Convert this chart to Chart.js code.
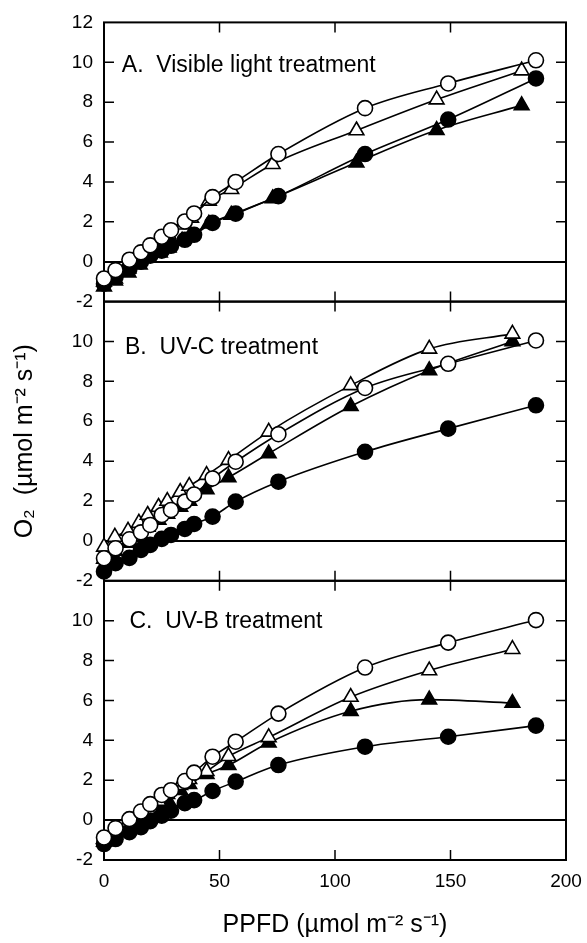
<!DOCTYPE html>
<html>
<head>
<meta charset="utf-8">
<title>O2 evolution vs PPFD</title>
<script src="https://cdn.jsdelivr.net/npm/chart.js"></script>
<style>
  html, body { margin: 0; padding: 0; background: #fff; }
</style>
</head>
<body>
<canvas id="o2Chart" width="587" height="943"></canvas>
<script>
    // PPFD levels - circles and triangles were measured at slightly different light levels
    const ppfdCircle = [0, 5, 11, 16, 20, 25, 29, 35, 39, 47, 57, 75.5, 113, 149, 187];
    const ppfdTriA = [0, 4.8, 10.6, 15.5, 19.3, 24.2, 28, 33.8, 37.7, 45.4, 55.1, 73, 109.3, 144, 180.8];
    const ppfdTriBC = [0, 4.7, 10.4, 15.1, 18.9, 23.6, 27.4, 33, 36.9, 44.4, 53.9, 71.3, 106.8, 140.8, 176.8];

    // A. Visible light treatment
    const visOpenCircle = [-0.84, -0.42, 0.1, 0.47, 0.82, 1.25, 1.58, 2.02, 2.42, 3.24, 4.0, 5.4, 7.7, 8.94, 10.1];
    const visFilledCircle = [-1.1, -0.75, -0.35, 0.0, 0.3, 0.55, 0.8, 1.1, 1.35, 1.95, 2.41, 3.29, 5.4, 7.13, 9.19];
    const visOpenTri = [-1.0, -0.85, -0.35, 0.15, 0.5, 0.95, 1.35, 1.85, 2.2, 3.05, 3.63, 4.89, 6.58, 8.13, 9.58];
    const visFilledTri = [-1.25, -0.95, -0.55, -0.15, 0.2, 0.45, 0.7, 1.05, 1.3, 1.9, 2.35, 3.17, 4.97, 6.6, 7.84];

    // B. UV-C treatment
    const uvcOpenCircle = [-0.87, -0.37, 0.08, 0.43, 0.8, 1.3, 1.55, 1.97, 2.33, 3.13, 3.97, 5.35, 7.67, 8.88, 10.05];
    const uvcFilledCircle = [-1.53, -1.12, -0.85, -0.45, -0.2, 0.1, 0.3, 0.6, 0.85, 1.22, 1.97, 2.97, 4.47, 5.63, 6.8];
    const uvcOpenTri = [-0.3, 0.2, 0.5, 0.9, 1.3, 1.7, 2.0, 2.45, 2.75, 3.3, 4.05, 5.47, 7.8, 9.63, 10.38];
    const uvcFilledTri = [-0.9, -0.5, -0.1, 0.35, 0.7, 1.05, 1.35, 1.7, 2.0, 2.58, 3.18, 4.38, 6.75, 8.55, 10.0];

    // C. UV-B treatment
    const uvbOpenCircle = [-0.87, -0.4, 0.05, 0.43, 0.8, 1.26, 1.5, 1.96, 2.38, 3.18, 3.93, 5.34, 7.65, 8.9, 10.03];
    const uvbFilledCircle = [-1.2, -0.95, -0.6, -0.35, -0.05, 0.22, 0.47, 0.85, 1.0, 1.46, 1.93, 2.76, 3.68, 4.18, 4.74];
    const uvbOpenTri = [-0.95, -0.55, -0.1, 0.3, 0.55, 0.95, 1.3, 1.75, 2.05, 2.45, 3.2, 4.15, 6.17, 7.5, 8.57];
    const uvbFilledTri = [-1.1, -0.75, -0.35, 0.05, 0.4, 0.75, 1.05, 1.5, 1.8, 2.3, 2.75, 3.88, 5.46, 6.04, 5.87];

    const panelTitles = ['A.  Visible light treatment', 'B.  UV-C treatment', 'C.  UV-B treatment'];
    const xTicks = [0, 50, 100, 150, 200];
    const yTicks = [-2, 0, 2, 4, 6, 8, 10, 12];

    const FONT = 'Arial, "Liberation Sans", Helvetica, sans-serif';
    Chart.defaults.font.family = FONT;
    Chart.defaults.color = '#000';

    // marker looks
    const markers = {
        openCircle:   { pointStyle: 'circle',   pointRadius: 7.5, pointBackgroundColor: '#fff' },
        filledCircle: { pointStyle: 'circle',   pointRadius: 7.5, pointBackgroundColor: '#000' },
        openTri:      { pointStyle: 'triangle', pointRadius: 8.5, pointBackgroundColor: '#fff' },
        filledTri:    { pointStyle: 'triangle', pointRadius: 8.5, pointBackgroundColor: '#000' }
    };

    function series(xs, ys, axisId, kind) {
        return Object.assign({
            data: xs.map((x, i) => ({ x: x, y: ys[i] })),
            yAxisID: axisId,
            borderColor: '#000',
            borderWidth: 1.6,
            pointBorderColor: '#000',
            pointBorderWidth: 1.6,
            cubicInterpolationMode: 'monotone',
            clip: false
        }, markers[kind]);
    }

    // first dataset ends up drawn on top
    const datasets = [
        series(ppfdCircle, visOpenCircle, 'yA', 'openCircle'),
        series(ppfdCircle, visFilledCircle, 'yA', 'filledCircle'),
        series(ppfdTriA, visOpenTri, 'yA', 'openTri'),
        series(ppfdTriA, visFilledTri, 'yA', 'filledTri'),

        series(ppfdCircle, uvcOpenCircle, 'yB', 'openCircle'),
        series(ppfdCircle, uvcFilledCircle, 'yB', 'filledCircle'),
        series(ppfdTriBC, uvcOpenTri, 'yB', 'openTri'),
        series(ppfdTriBC, uvcFilledTri, 'yB', 'filledTri'),

        series(ppfdCircle, uvbOpenCircle, 'yC', 'openCircle'),
        series(ppfdCircle, uvbFilledCircle, 'yC', 'filledCircle'),
        series(ppfdTriBC, uvbOpenTri, 'yC', 'openTri'),
        series(ppfdTriBC, uvbFilledTri, 'yC', 'filledTri')
    ];

    const TICK = 10;

    // panel frames, inward tick marks and panel captions
    const framePlugin = {
        id: 'frame',
        beforeDatasetsDraw(chart) {
            const { ctx, scales } = chart;
            const x = scales.x;
            ctx.save();
            ctx.strokeStyle = '#000';
            ['yA', 'yB', 'yC'].forEach(id => {
                const y = scales[id];
                ctx.lineWidth = 2;
                ctx.strokeRect(x.left, y.top, x.right - x.left, y.bottom - y.top);
                ctx.lineWidth = 1.5;
                ctx.beginPath();
                y.ticks.forEach(t => {
                    if (t.value <= y.min || t.value >= y.max) return;
                    const py = y.getPixelForValue(t.value);
                    ctx.moveTo(x.left, py); ctx.lineTo(x.left + TICK, py);
                    ctx.moveTo(x.right, py); ctx.lineTo(x.right - TICK, py);
                });
                x.ticks.forEach(t => {
                    if (t.value <= x.min || t.value >= x.max) return;
                    const px = x.getPixelForValue(t.value);
                    ctx.moveTo(px, y.top); ctx.lineTo(px, y.top + TICK);
                    ctx.moveTo(px, y.bottom); ctx.lineTo(px, y.bottom - TICK);
                });
                ctx.stroke();
            });
            ctx.restore();
        },
        afterDatasetsDraw(chart) {
            const { ctx, scales } = chart;
            const at = [[7.7, 9.82], [9.1, 9.67], [11, 9.95]];
            ctx.save();
            ctx.fillStyle = '#000';
            ctx.font = '23px ' + FONT;
            ctx.textBaseline = 'middle';
            ctx.textAlign = 'left';
            ['yA', 'yB', 'yC'].forEach((id, i) => {
                ctx.fillText(panelTitles[i],
                    scales.x.getPixelForValue(at[i][0]),
                    scales[id].getPixelForValue(at[i][1]));
            });
            ctx.restore();
        }
    };

    function yScale(showTitle, hideTop) {
        return {
            type: 'linear',
            position: 'left',
            stack: 'panels',
            stackWeight: 1,
            min: yTicks[0],
            max: yTicks[yTicks.length - 1],
            afterFit: s => { s.width = 104; },
            border: { display: false },
            grid: {
                drawTicks: false,
                lineWidth: 2,
                color: c => (c.tick && c.tick.value === 0) ? '#000' : 'rgba(0,0,0,0)'
            },
            ticks: {
                stepSize: yTicks[1] - yTicks[0],
                autoSkip: false,
                padding: 11,
                font: { size: 19 },
                callback: v => (hideTop && v === yTicks[yTicks.length - 1]) ? '' : v
            },
            title: {
                display: showTitle,
                text: 'O₂  (µmol m⁻² s⁻¹)',
                font: { size: 25 },
                padding: { top: 10, bottom: 0 }
            }
        };
    }

    new Chart(document.getElementById('o2Chart'), {
        type: 'line',
        data: { datasets: datasets },
        options: {
            responsive: false,
            animation: false,
            layout: { padding: { left: 0, right: 21, top: 21, bottom: 0 } },
            plugins: { legend: { display: false }, tooltip: { enabled: false } },
            scales: {
                x: {
                    type: 'linear',
                    position: 'bottom',
                    min: xTicks[0],
                    max: xTicks[xTicks.length - 1],
                    afterFit: s => { s.height = 83; s.paddingLeft = 0; s.paddingRight = 0; },
                    border: { display: false },
                    grid: { display: false, drawTicks: false },
                    ticks: { stepSize: xTicks[1] - xTicks[0], padding: 10, font: { size: 19 } },
                    title: {
                        display: true,
                        text: 'PPFD (µmol m⁻² s⁻¹)',
                        font: { size: 25 },
                        padding: { top: 0, bottom: 3 }
                    }
                },
                // later-defined left axes are stacked on top
                yC: yScale(false, true),
                yB: yScale(true, true),
                yA: yScale(false, false)
            }
        },
        plugins: [framePlugin]
    });
</script>
</body>
</html>
